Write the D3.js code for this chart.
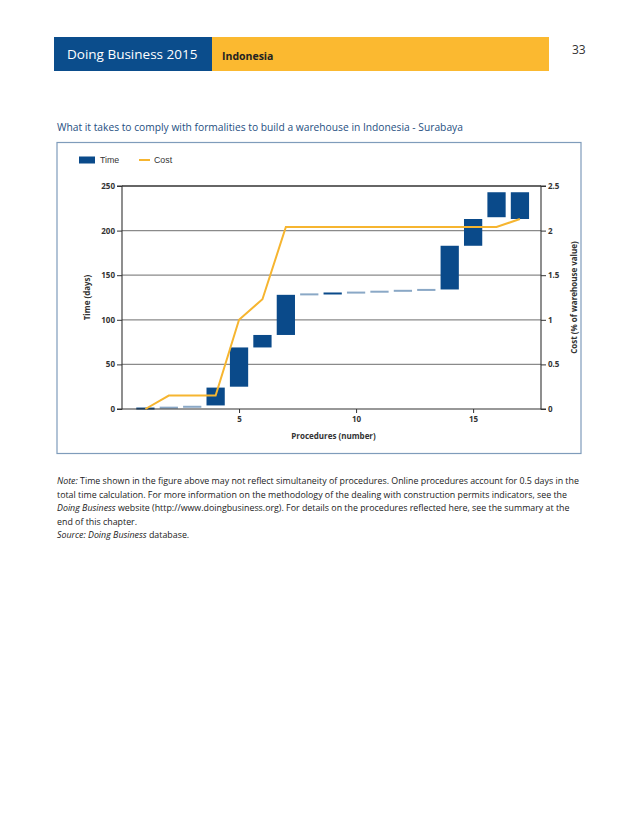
<!DOCTYPE html>
<html>
<head>
<meta charset="utf-8">
<script src="https://cdn.jsdelivr.net/npm/d3@7"></script>
<style>
  body { margin: 0; background: #fff; }
  svg { font-family: "Open Sans", "Noto Sans", sans-serif; }
  .tick text { font-family: "Open Sans", sans-serif; font-weight: bold; font-size: 8px; fill: #333; }
  .axis-label { font-weight: bold; font-size: 8px; fill: #333; }
  .note { font-size: 8.85px; fill: #222; }
</style>
</head>
<body>
<div id="chart"></div>
<script>
var svgWidth = 638;
var svgHeight = 826;

// procedures 1..17
var procedures = [1, 2, 3, 4, 5, 6, 7, 8, 9, 10, 11, 12, 13, 14, 15, 16, 17];
// time bars, start/end in days
var timeStart = [0, 1, 2, 4, 25, 69, 83, 128, 129, 130, 131, 132, 133, 134, 183, 215, 213];
var timeEnd = [1, 2, 3, 24, 69, 83, 128, 129, 130, 131, 132, 133, 134, 183, 213, 243, 243];
// cumulative cost, % of warehouse value
var cost = [0, 0.15, 0.15, 0.15, 1.0, 1.23, 2.04, 2.04, 2.04, 2.04, 2.04, 2.04, 2.04, 2.04, 2.04, 2.04, 2.13];

var timeTicks = [0, 50, 100, 150, 200, 250];
var costTicks = [0, 0.5, 1, 1.5, 2, 2.5];
var xTicks = [5, 10, 15];

var plot = { left: 122, right: 541, top: 186, bottom: 409 };

var svg = d3.select("#chart")
  .append("svg")
  .attr("width", svgWidth)
  .attr("height", svgHeight);

// header band
svg.append("rect")
  .attr("x", 54).attr("y", 37).attr("width", 158).attr("height", 34)
  .attr("fill", "#0b4d8c");
svg.append("rect")
  .attr("x", 212).attr("y", 37).attr("width", 337).attr("height", 34)
  .attr("fill", "#fbb930");
svg.append("text")
  .attr("x", 67).attr("y", 59)
  .attr("font-size", "13.5px")
  .attr("fill", "#fff")
  .text("Doing Business 2015");
svg.append("text")
  .attr("x", 222).attr("y", 60)
  .attr("font-size", "10.5px")
  .attr("font-weight", "bold")
  .attr("fill", "#222")
  .text("Indonesia");
svg.append("text")
  .attr("x", 572).attr("y", 54)
  .attr("font-size", "12px")
  .attr("fill", "#333")
  .text("33");

// chart title
svg.append("text")
  .attr("x", 57).attr("y", 131)
  .attr("font-size", "10.25px")
  .attr("fill", "#1f5082")
  .text("What it takes to comply with formalities to build a warehouse in Indonesia - Surabaya");

// frame
svg.append("rect")
  .attr("x", 57).attr("y", 142.5).attr("width", 524).attr("height", 311)
  .attr("fill", "none")
  .attr("stroke", "#7f9cbb")
  .attr("stroke-width", 1.2);

var x = d3.scaleLinear().domain([0, 17.9]).range([plot.left, plot.right]);
var y = d3.scaleLinear().domain([0, 250]).range([plot.bottom, plot.top]);
var y2 = d3.scaleLinear().domain([0, 2.5]).range([plot.bottom, plot.top]);

var chartGroup = svg.append("g");

// gridlines
chartGroup.selectAll(".grid")
  .data(timeTicks.filter(d => d > 0))
  .enter()
  .append("line")
  .attr("x1", plot.left).attr("x2", plot.right)
  .attr("y1", d => y(d)).attr("y2", d => y(d))
  .attr("stroke", d => d === 250 ? "#333" : "#8a8a8a")
  .attr("stroke-width", 1.3);

// time bars
var barW = 0.78;
chartGroup.selectAll(".bar")
  .data(procedures)
  .enter()
  .append("rect")
  .attr("x", (d, i) => x(d - barW / 2))
  .attr("width", x(barW) - x(0))
  .attr("y", (d, i) => {
    var h = y(timeStart[i]) - y(timeEnd[i]);
    return h < 2 ? (y(timeStart[i]) + y(timeEnd[i])) / 2 - 1 : y(timeEnd[i]);
  })
  .attr("height", (d, i) => Math.max(2, y(timeStart[i]) - y(timeEnd[i])))
  .attr("fill", (d, i) => (timeEnd[i] - timeStart[i]) <= 1 && i > 0 && i !== 8 ? "#8aa8c6" : "#0a4a8a");

// axes
var leftAxis = d3.axisLeft(y).tickValues(timeTicks).tickSize(5).tickPadding(2);
var rightAxis = d3.axisRight(y2).tickValues(costTicks).tickSize(5).tickPadding(2)
  .tickFormat(d3.format("~g"));
var bottomAxis = d3.axisBottom(x).tickValues(xTicks).tickSize(4).tickPadding(3);

function styleAxis(g) {
  g.select(".domain").attr("stroke", "#333").attr("stroke-width", 1.1);
  g.selectAll(".tick line").attr("stroke", "#333");
}

chartGroup.append("g")
  .attr("transform", `translate(${plot.left}, 0)`)
  .call(leftAxis)
  .call(g => g.select(".domain").attr("d", `M-5,${plot.top}H0V${plot.bottom}H-5`))
  .call(styleAxis);

chartGroup.append("g")
  .attr("transform", `translate(${plot.right}, 0)`)
  .call(rightAxis)
  .call(g => g.select(".domain").attr("d", `M5,${plot.top}H0V${plot.bottom}H5`))
  .call(styleAxis);

chartGroup.append("g")
  .attr("transform", `translate(0, ${plot.bottom})`)
  .call(bottomAxis)
  .call(g => g.select(".domain").attr("d", `M${plot.left},0H${plot.right}`))
  .call(styleAxis);

// cost line
var line = d3.line()
  .x((d, i) => x(procedures[i]))
  .y(d => y2(d));

chartGroup.append("path")
  .datum(cost)
  .attr("d", line)
  .attr("fill", "none")
  .attr("stroke", "#f6b530")
  .attr("stroke-width", 2);

// axis labels
chartGroup.append("text")
  .attr("class", "axis-label")
  .attr("transform", `translate(90, ${(plot.top + plot.bottom) / 2}) rotate(-90)`)
  .attr("text-anchor", "middle")
  .text("Time (days)");

chartGroup.append("text")
  .attr("class", "axis-label")
  .attr("transform", `translate(577, ${(plot.top + plot.bottom) / 2}) rotate(-90)`)
  .attr("text-anchor", "middle")
  .text("Cost (% of warehouse value)");

chartGroup.append("text")
  .attr("class", "axis-label")
  .attr("x", (plot.left + plot.right) / 2 + 2)
  .attr("y", 439)
  .attr("text-anchor", "middle")
  .text("Procedures (number)");

// legend
var legend = svg.append("g").attr("transform", "translate(79, 160)");
legend.append("rect")
  .attr("x", 0).attr("y", -3.5).attr("width", 16).attr("height", 7)
  .attr("fill", "#0a4a8a");
legend.append("text")
  .attr("x", 21).attr("y", 3).attr("font-family", "Liberation Sans, Arial, sans-serif")
  .attr("font-size", "8.8px").attr("fill", "#333")
  .text("Time");
legend.append("line")
  .attr("x1", 60).attr("x2", 71).attr("y1", 0).attr("y2", 0)
  .attr("stroke", "#f6b530").attr("stroke-width", 2);
legend.append("text")
  .attr("x", 75).attr("y", 3).attr("font-family", "Liberation Sans, Arial, sans-serif")
  .attr("font-size", "8.8px").attr("fill", "#333")
  .text("Cost");

// note text
var note = svg.append("text").attr("class", "note");
var noteLines = [
  [["Note:", true], [" Time shown in the figure above may not reflect simultaneity of procedures. Online procedures account for 0.5 days in the", false]],
  [["total time calculation.  For more information on the methodology of the dealing with construction permits indicators, see the", false]],
  [["Doing Business", true], [" website (http://www.doingbusiness.org). For details on the procedures reflected here, see the summary at the", false]],
  [["end of this chapter.", false]],
  [["Source:", true], [" ", false], ["Doing Business", true], [" database.", false]]
];
noteLines.forEach(function(parts, li) {
  parts.forEach(function(p, pi) {
    var t = note.append("tspan").text(p[0]).attr("font-style", p[1] ? "italic" : null);
    if (pi === 0) t.attr("x", 57).attr("y", 484 + li * 13.5);
  });
});
</script>
</body>
</html>
